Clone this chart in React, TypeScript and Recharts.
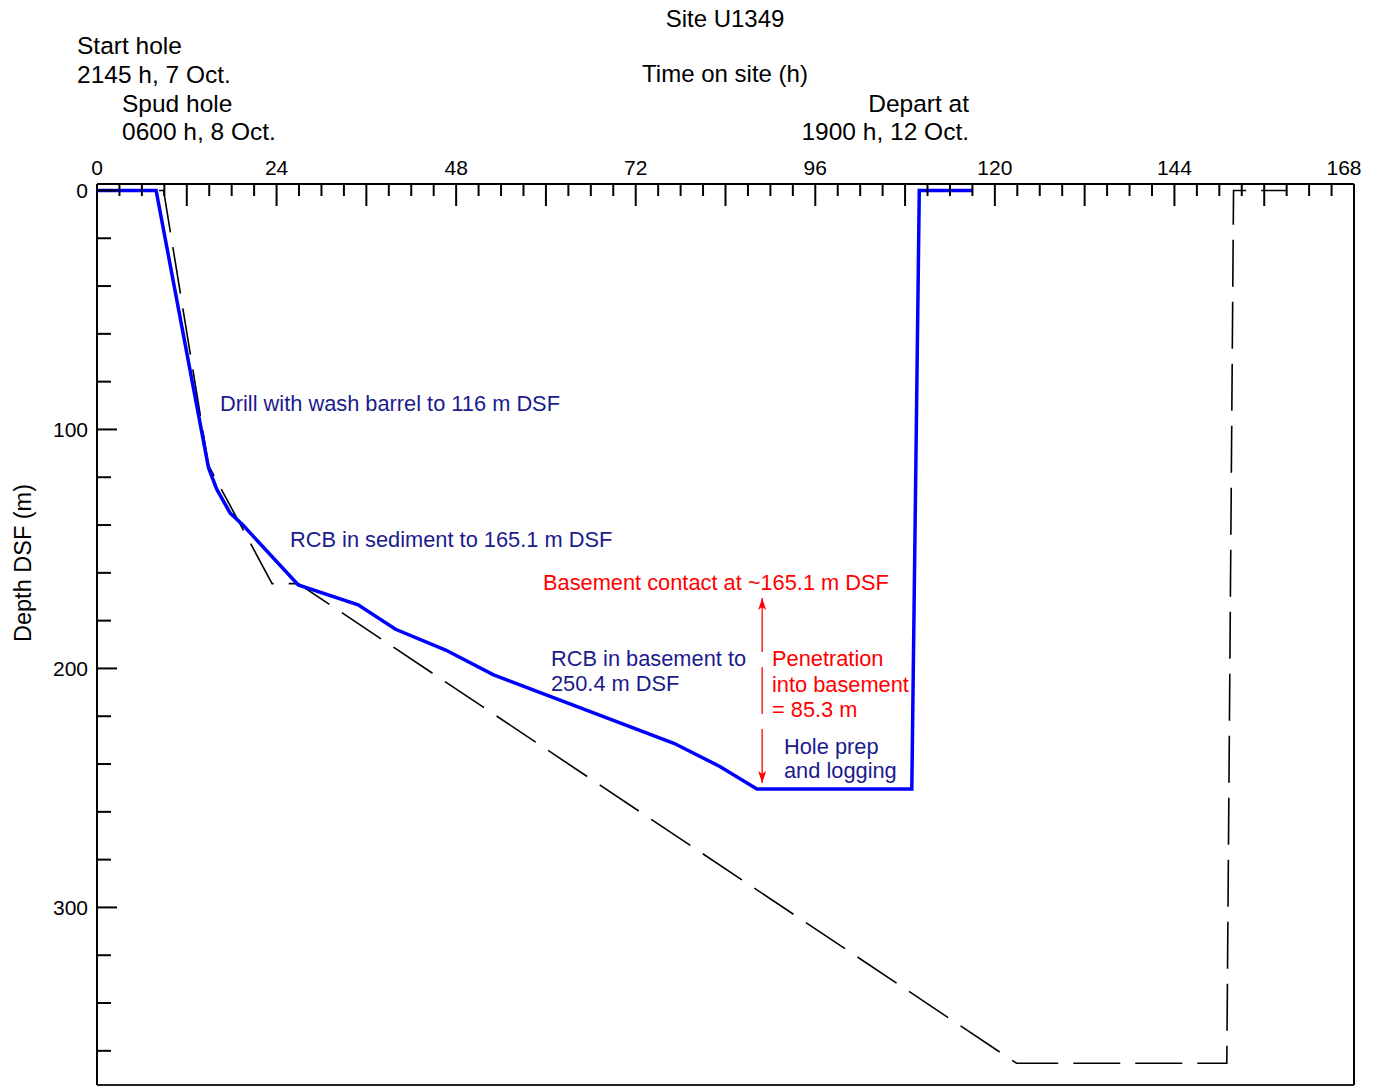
import { Line, LineChart, ReferenceLine, XAxis, YAxis } from "recharts";

// Hole U1349A: actual time vs depth
const holeHours = [0, 7.9, 14.9, 16.0, 17.8, 19.5, 26.9, 34.9, 39.9, 46.6, 53.0, 77.1, 83.3, 88.2, 108.9, 109.9, 117.1];
const holeDepth = [0, 0, 116, 125, 135, 140, 165.1, 173.4, 183.6, 192.3, 202.7, 231.3, 241.1, 250.4, 250.4, 0, 0];

// Planned operations (dashed)
const planHours = [0, 8.9, 14.9, 23.4, 26.9, 122.9, 151.0, 151.9, 159.0];
const planDepth = [0, 0, 115, 164.5, 164.5, 365.2, 365.2, 0, 0];

const hourTicks = [
  0, 3, 6, 9, 12, 15, 18, 21, 24, 27, 30, 33, 36, 39, 42, 45, 48, 51, 54, 57, 60, 63, 66, 69, 72,
  75, 78, 81, 84, 87, 90, 93, 96, 99, 102, 105, 108, 111, 114, 117, 120, 123, 126, 129, 132, 135,
  138, 141, 144, 147, 150, 153, 156, 159, 162, 165, 168,
];
const depthTicks = [0, 20, 40, 60, 80, 100, 120, 140, 160, 180, 200, 220, 240, 260, 280, 300, 320, 340, 360];

const basementContact = 165.1;
const finalDepth = 250.4;
const penetrationHour = 88.9;

const holeData = holeHours.map((h, i) => ({ h, d: holeDepth[i] }));
const planData = planHours.map((h, i) => ({ h, d: planDepth[i] }));

const FONT = "'Liberation Sans', Arial, Helvetica, sans-serif";
const NAVY = "#1b1b8c";
const RED = "#ff0000";

const HourTick = ({ x, y, payload }: any) => {
  const v = payload.value;
  const len = v % 12 === 0 ? 22 : 12;
  // last label is nudged inside the frame
  const dx = v === 168 ? -10 : 0;
  return (
    <g>
      <line x1={x} y1={y} x2={x} y2={y + len} stroke="#000" strokeWidth={2} />
      {v % 24 === 0 && (
        <text x={x + dx} y={y - 9} textAnchor="middle" fontSize={21} fill="#000" fontFamily={FONT}>
          {v}
        </text>
      )}
    </g>
  );
};

const DepthTick = ({ x, y, payload }: any) => {
  const v = payload.value;
  const major = v % 100 === 0;
  return (
    <g>
      <line x1={x} y1={y} x2={x + (major ? 20 : 14)} y2={y} stroke="#000" strokeWidth={2} />
      {major && (
        <text x={x - 9} y={y + 7.5} textAnchor="end" fontSize={21} fill="#000" fontFamily={FONT}>
          {v}
        </text>
      )}
    </g>
  );
};

// double-headed arrow, heads pulled in a little from the segment ends
const PenetrationArrow = ({ x1, y1, y2 }: any) => {
  const top = y1 + 13;
  const bottom = y2 - 6;
  return (
    <g>
      <line
        x1={x1}
        y1={top}
        x2={x1}
        y2={bottom}
        stroke={RED}
        strokeWidth={1.3}
        strokeDasharray="54 15 47 15 80"
      />
      <path d={`M${x1},${top} L${x1 - 4},${top + 12} L${x1},${top + 9} L${x1 + 4},${top + 12} Z`} fill={RED} />
      <path
        d={`M${x1},${bottom} L${x1 - 4},${bottom - 12} L${x1},${bottom - 9} L${x1 + 4},${bottom - 12} Z`}
        fill={RED}
      />
    </g>
  );
};

export default function App() {
  return (
    <div style={{ position: "absolute", left: 0, top: 0, width: 1377, height: 1086, background: "#fff" }}>
      <LineChart
        width={1377}
        height={1086}
        margin={{ top: 183, right: 22, bottom: 0, left: 96 }}
        style={{ fontFamily: FONT }}
      >
        <XAxis
          xAxisId="time"
          orientation="top"
          type="number"
          dataKey="h"
          domain={[0, 168]}
          ticks={hourTicks}
          interval={0}
          height={1}
          tickSize={0}
          tickMargin={0}
          tickLine={false}
          tick={<HourTick />}
          axisLine={{ stroke: "#000", strokeWidth: 2 }}
          allowDataOverflow
        />
        <XAxis
          xAxisId="frame"
          orientation="bottom"
          type="number"
          domain={[0, 1]}
          height={1}
          tick={false}
          tickLine={false}
          axisLine={{ stroke: "#222", strokeWidth: 2 }}
        />
        <YAxis
          yAxisId="depth"
          orientation="left"
          type="number"
          reversed
          domain={[-2.7, 374.3]}
          ticks={depthTicks}
          interval={0}
          width={1}
          tickSize={0}
          tickMargin={0}
          tickLine={false}
          tick={<DepthTick />}
          axisLine={{ stroke: "#000", strokeWidth: 2 }}
          allowDataOverflow
        />
        <YAxis
          yAxisId="frame"
          orientation="right"
          type="number"
          domain={[0, 1]}
          width={1}
          tick={false}
          tickLine={false}
          axisLine={{ stroke: "#000", strokeWidth: 2 }}
        />

        <Line
          xAxisId="time"
          yAxisId="depth"
          data={planData}
          dataKey="d"
          type="linear"
          stroke="#000"
          strokeWidth={1.6}
          strokeDasharray="47 15"
          dot={false}
          activeDot={false}
          isAnimationActive={false}
        />
        <Line
          xAxisId="time"
          yAxisId="depth"
          data={holeData}
          dataKey="d"
          type="linear"
          stroke="#0000ff"
          strokeWidth={3.5}
          strokeLinejoin="miter"
          dot={false}
          activeDot={false}
          isAnimationActive={false}
        />
        <ReferenceLine
          xAxisId="time"
          yAxisId="depth"
          segment={[
            { x: penetrationHour, y: basementContact },
            { x: penetrationHour, y: finalDepth },
          ]}
          ifOverflow="visible"
          shape={<PenetrationArrow />}
        />
      </LineChart>

      <svg
        width={1377}
        height={1086}
        style={{ position: "absolute", left: 0, top: 0, pointerEvents: "none" }}
        fontFamily={FONT}
      >
        <text x={725} y={27} textAnchor="middle" fontSize={24} fill="#000">
          Site U1349
        </text>
        <text x={725} y={82} textAnchor="middle" fontSize={24} fill="#000">
          Time on site (h)
        </text>
        <text x={77} y={54} fontSize={24.5} fill="#000">
          Start hole
        </text>
        <text x={77} y={83} fontSize={24.5} fill="#000">
          2145 h, 7 Oct.
        </text>
        <text x={122} y={112} fontSize={24.5} fill="#000">
          Spud hole
        </text>
        <text x={122} y={140} fontSize={24.5} fill="#000">
          0600 h, 8 Oct.
        </text>
        <text x={969} y={112} textAnchor="end" fontSize={24.5} fill="#000">
          Depart at
        </text>
        <text x={969} y={140} textAnchor="end" fontSize={24.5} fill="#000">
          1900 h, 12 Oct.
        </text>
        <text transform="translate(31,563) rotate(-90)" textAnchor="middle" fontSize={23.5} fill="#000">
          Depth DSF (m)
        </text>

        <g fontSize={21.8} fill={NAVY}>
          <text x={220} y={411}>Drill with wash barrel to 116 m DSF</text>
          <text x={290} y={547}>RCB in sediment to 165.1 m DSF</text>
          <text x={551} y={666}>RCB in basement to</text>
          <text x={551} y={691}>250.4 m DSF</text>
          <text x={784} y={754}>Hole prep</text>
          <text x={784} y={778}>and logging</text>
        </g>
        <g fontSize={21.8} fill={RED}>
          <text x={543} y={590}>Basement contact at ~165.1 m DSF</text>
          <text x={772} y={666}>Penetration</text>
          <text x={772} y={692}>into basement</text>
          <text x={772} y={717}>= 85.3 m</text>
        </g>
      </svg>
    </div>
  );
}
